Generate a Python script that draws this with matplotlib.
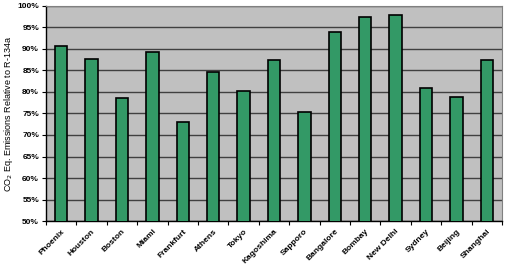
import numpy as np
import matplotlib.pyplot as plt
from matplotlib.ticker import FixedLocator

cities = ["Phoenix", "Houston", "Boston", "Miami", "Frankfurt", "Athens", "Tokyo",
          "Kagoshima", "Sapporo", "Bangalore", "Bombay", "New Delhi", "Sydney",
          "Beijing", "Shanghai"]
emissions = [90.6, 87.7, 78.6, 89.2, 73.0, 84.7, 80.3, 87.4, 75.3, 94.0, 97.4,
             97.8, 81.0, 78.8, 87.4]
yticks = list(range(50, 101, 5))

fig = plt.figure(figsize=(5.06, 2.67), dpi=100)
ax = fig.add_axes([0.091, 0.172, 0.901, 0.806])
ax.set_facecolor("#c0c0c0")

x = np.arange(len(cities))
ax.bar(x, emissions, width=0.41, color="#339966", edgecolor="black", linewidth=1.2,
       zorder=3)

ax.set_xlim(-0.5, len(cities) - 0.5)
ax.set_ylim(50, 100)
ax.set_yticks(yticks)
ax.set_yticklabels([f"{v}%" for v in yticks], fontsize=6, fontweight="bold",
                   family="Liberation Sans")
ax.grid(axis="y", color="#404040", linewidth=1.0, zorder=1)

ax.set_xticks(x)
ax.set_xticklabels(cities, rotation=45, ha="right", rotation_mode="anchor",
                   fontsize=6, fontweight="bold", family="Liberation Sans")
ax.tick_params(axis="x", which="major", length=0, pad=5)
ax.xaxis.set_minor_locator(FixedLocator(np.arange(-0.5, len(cities), 1.0)))
ax.tick_params(axis="x", which="minor", length=3, width=0.8, direction="out")
ax.tick_params(axis="y", length=3, width=0.8, direction="out", pad=2)

for side in ["top", "right"]:
    ax.spines[side].set_color("#808080")
for side in ["left", "bottom"]:
    ax.spines[side].set_color("black")
    ax.spines[side].set_linewidth(1.0)

ax.set_ylabel("CO$_2$ Eq. Emissions Relative to R-134a", fontsize=6.5,
              family="Liberation Sans")
ax.yaxis.set_label_coords(-0.068, 0.5)

fig.savefig("out.png", dpi=100)
